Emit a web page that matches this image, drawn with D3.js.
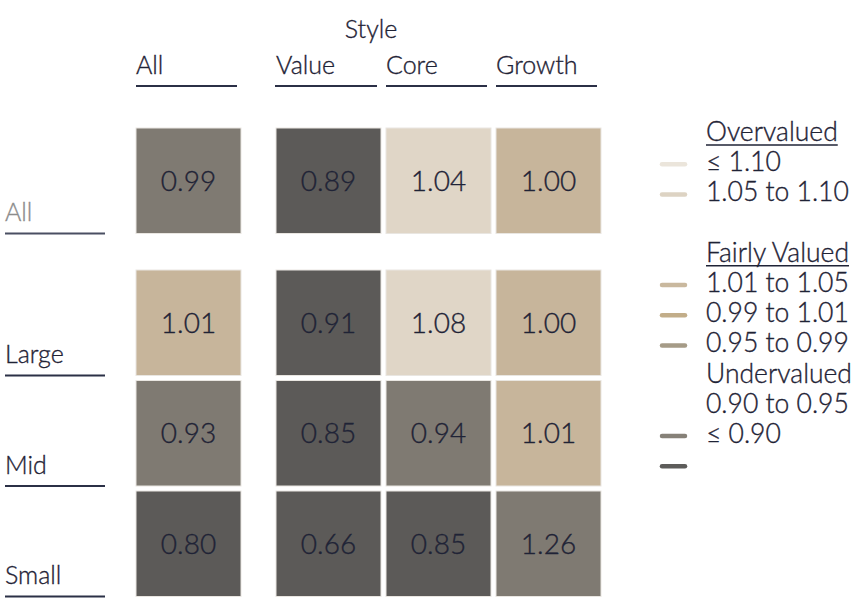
<!DOCTYPE html>
<html>
<head>
<meta charset="utf-8">
<script src="https://cdn.jsdelivr.net/npm/d3@7"></script>
<style>
  body { margin: 0; background: #fff; }
  text { font-family: Lato, "Open Sans", sans-serif; font-weight: 300; stroke-width: 0.35px; }
</style>
</head>
<body>
<div class="area"></div>
<script>
const width = 851
const height = 616
const textColor = "#1f2336"
const lineColor = "#2b3046"

// data
const sizes = ["All", "Large", "Mid", "Small"]
const styles = ["All", "Value", "Core", "Growth"]
const values = [
  [0.99, 0.89, 1.04, 1.00],
  [1.01, 0.91, 1.08, 1.00],
  [0.93, 0.85, 0.94, 1.01],
  [0.80, 0.66, 0.85, 1.26]
]
// shade bucket of each cell, as coloured in the picture
const shades = [
  [1, 0, 3, 2],
  [2, 0, 3, 2],
  [1, 0, 1, 2],
  [0, 0, 0, 1]
]
const cellColors = ["#5c5a58", "#7f7a72", "#c7b59b", "#e0d6c7"]

const legendLabels = [
  "Overvalued", "\u2264 1.10", "1.05 to 1.10", "",
  "Fairly Valued", "1.01 to 1.05", "0.99 to 1.01", "0.95 to 0.99",
  "Undervalued", "0.90 to 0.95", "\u2264 0.90"
]
const legendHeads = ["Overvalued", "Fairly Valued"]
const swatchSlots = [1, 2, 5, 6, 7, 10, 11]
const swatchColors = ["#ebe5db", "#ddd3c3", "#c9b89e", "#c2ad89", "#a59b87", "#868178", "#5d5c5a"]

const svg = d3.select(".area")
  .append("svg")
  .attr("width", width)
  .attr("height", height)
  .attr("viewBox", [0, 0, width, height])

// columns: "All" stands apart, the three styles sit together
const xAll = d3.scaleBand().domain(["All"]).range([136, 241])
const xStyle = d3.scaleBand()
  .domain(styles.slice(1))
  .range([276, 276 + 3 * 110 - 5])
  .paddingInner(5 / 110)
const colX = c => c === "All" ? xAll(c) : xStyle(c)
const bw = xStyle.bandwidth()

const yAll = d3.scaleBand().domain(["All"]).range([128, 233])
const ySize = d3.scaleBand()
  .domain(sizes.slice(1))
  .range([270, 270 + 3 * 110.5 - 5])
  .paddingInner(5 / 110.5)
const rowY = r => r === "All" ? yAll(r) : ySize(r)
const bh = ySize.bandwidth()

const cells = []
sizes.forEach((r, i) => styles.forEach((c, j) => {
  cells.push({row: r, col: c, value: values[i][j], shade: shades[i][j]})
}))

const cellLayer = svg.append("g")
const cell = cellLayer.selectAll("g")
  .data(cells)
  .enter()
  .append("g")
  .attr("transform", d => `translate(${colX(d.col)}, ${rowY(d.row)})`)

cell.append("rect")
  .attr("width", bw)
  .attr("height", bh)
  .attr("fill", d => cellColors[d.shade])
  .attr("stroke", "#e9e6e1")
  .attr("stroke-width", 1)

cell.append("text")
  .attr("x", bw / 2)
  .attr("y", bh / 2 + 10)
  .attr("text-anchor", "middle")
  .attr("font-size", 28)
  .attr("fill", textColor)
  .attr("stroke", textColor)
  .text(d => d.value.toFixed(2))

// column headers
svg.append("text")
  .attr("x", xStyle("Core") - 15)
  .attr("y", 38)
  .attr("text-anchor", "middle")
  .attr("font-size", 25)
  .attr("fill", textColor)
  .attr("stroke", textColor)
  .text("Style")

const head = svg.append("g").selectAll("g")
  .data(styles)
  .enter()
  .append("g")
  .attr("transform", d => `translate(${colX(d)}, 86)`)
head.append("text")
  .attr("y", -12.5)
  .attr("font-size", 25)
  .attr("fill", textColor)
  .attr("stroke", textColor)
  .text(d => d)
head.append("line")
  .attr("x1", d => d === "Value" ? -1 : 0)
  .attr("x2", 101)
  .attr("stroke", lineColor)
  .attr("stroke-width", 2)

// row headers
const side = svg.append("g").selectAll("g")
  .data(sizes)
  .enter()
  .append("g")
  .attr("transform", d => `translate(5, ${rowY(d) + bh})`)
side.append("text")
  .attr("y", -12.5)
  .attr("font-size", 25)
  .attr("fill", d => d === "All" ? "#8c8c8c" : textColor)
  .attr("stroke", d => d === "All" ? "#8c8c8c" : textColor)
  .text(d => d)
side.append("line")
  .attr("x2", 100)
  .attr("stroke", d => d === "All" ? "#4a4f62" : lineColor)
  .attr("stroke-width", 2)

// legend
const ly = d3.scaleLinear().domain([0, 10]).range([141, 443])
const legend = svg.append("g")

const ltext = legend.selectAll("text")
  .data(legendLabels)
  .enter()
  .append("text")
  .attr("x", 706)
  .attr("y", (d, i) => ly(i))
  .attr("font-size", 26.5)
  .attr("fill", textColor)
  .attr("stroke", textColor)
  .text(d => d)

ltext.filter(d => legendHeads.includes(d)).each(function(d, i) {
  const len = this.getComputedTextLength()
  const y = +this.getAttribute("y") + 4
  legend.append("line")
    .attr("x1", 706).attr("x2", 706 + len)
    .attr("y1", y).attr("y2", y)
    .attr("stroke", textColor)
    .attr("stroke-width", 1.6)
})

legend.selectAll("line.swatch")
  .data(swatchSlots)
  .enter()
  .append("line")
  .attr("class", "swatch")
  .attr("x1", 662).attr("x2", 685)
  .attr("y1", d => ly(d) - 7)
  .attr("y2", d => ly(d) - 7)
  .attr("stroke", (d, i) => swatchColors[i])
  .attr("stroke-width", 4.5)
  .attr("stroke-linecap", "round")
</script>
</body>
</html>
